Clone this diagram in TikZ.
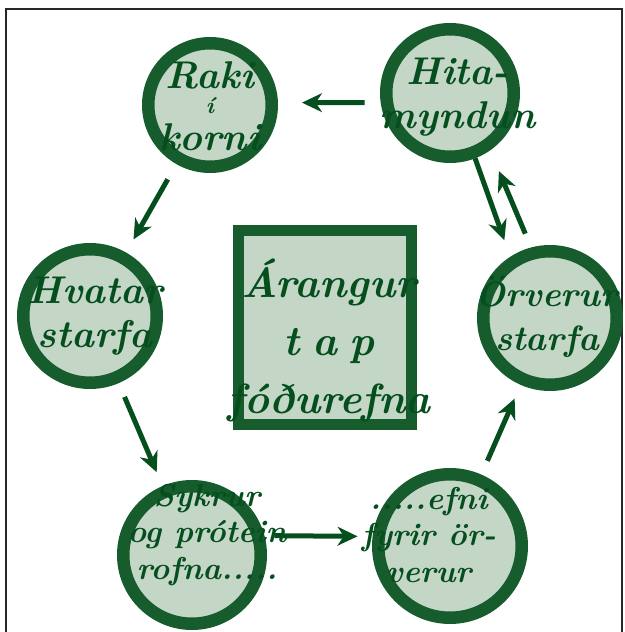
\documentclass[tikz,border=0pt]{standalone}
\usepackage{fontspec}
\usetikzlibrary{arrows.meta,positioning}
\definecolor{ringgreen}{RGB}{22,92,44}
\definecolor{inkgreen}{RGB}{5,78,30}
\definecolor{fillgreen}{RGB}{196,214,198}

\tikzset{
  stage/.style={circle,draw=ringgreen,line width=0.5cm,fill=fillgreen,inner sep=0pt},
  panel/.style={rectangle,draw=ringgreen,line width=0.45cm,fill=fillgreen,inner sep=0pt},
  script/.style={text=inkgreen,align=center,inner sep=0pt,
    font=\bfseries\itshape\fontsize{44}{50}\selectfont},
  flow/.style={-{Stealth[length=0.8cm,width=0.75cm,inset=0.25cm]},line width=0.2cm,draw=inkgreen},
}

\begin{document}
\begin{tikzpicture}
    \useasboundingbox (0,0) rectangle (25,25.28);
    \clip (0,0) rectangle (25,25.28);

    % Frame
    \draw[line width=0.1cm,black!85] (0.24,0) -- (0.24,24.92) -- (24.88,24.92) -- (24.88,0);

    % Stages
    \node[stage,minimum size=4.94cm] (raki) at (8.4,21.08) {};
    \node[stage,minimum size=5.1cm] (hita) at (18.0,21.56) {};
    \node[stage,minimum size=5.34cm] (hvatar) at (3.6,12.64) {};
    \node[stage,minimum size=5.34cm] (orverur) at (22.0,12.56) {};
    \node[stage,minimum size=5.5cm] (sykrur) at (7.68,3.08) {};
    \node[stage,minimum size=5.74cm] (efni) at (18.0,3.44) {};
    \node[panel,minimum width=6.91cm,minimum height=7.75cm] (tap) at (13.0,12.18) {};

    % Texts
    \node[script] at ([shift={(0,-0.05)}]raki) {Raki\\[-0.75cm]{\fontsize{26}{26}\selectfont í}\\[-0.3cm]korni};
    \node[script] at ([shift={(0.3,-0.16)}]hita) {Hita-\\myndun};
    \node[script] at ([shift={(0.2,0)}]hvatar) {Hvatar\\starfa};
    \node[script,font=\bfseries\itshape\fontsize{40}{50}\selectfont] at ([shift={(-0.12,0.05)}]orverur)
      {Örverur\\starfa};
    \node[script,font=\bfseries\itshape\fontsize{36}{42}\selectfont] at ([shift={(0.6,0.8)}]sykrur)
      {Sykrur\\og prótein\\rofna.....};
    \node[script,font=\bfseries\itshape\fontsize{36}{42}\selectfont] at ([shift={(-0.85,0.44)}]efni)
      {.....efni\\fyrir ör-\\verur};
    \node[script,font=\bfseries\itshape\fontsize{48}{66}\selectfont] at ([shift={(0.16,-0.5)}]tap)
      {Árangur\\t\hspace{0.3em}a\hspace{0.3em}p\\fóðurefna};

    % Arrows
    \draw[flow,shorten <=0.64cm,shorten >=0.96cm] (hita.188) -- (raki.2);
    \draw[flow,shorten <=0.7cm,shorten >=0.6cm] (raki) -- (hvatar);
    \draw[flow,shorten <=0.6cm,shorten >=0.6cm] (hvatar) -- (sykrur);
    \draw[flow,shorten <=0.4cm,shorten >=0.6cm] (sykrur.15) -- (efni.173);
    \draw[flow,shorten <=0.6cm,shorten >=0.6cm] (efni) -- (orverur);
    \draw[flow,shorten >=0.7cm] (hita.-69) -- (orverur.123);
    \draw[flow,shorten <=0.6cm,shorten >=0.9cm] (orverur.105) -- (hita.-55);
\end{tikzpicture}
\end{document}
